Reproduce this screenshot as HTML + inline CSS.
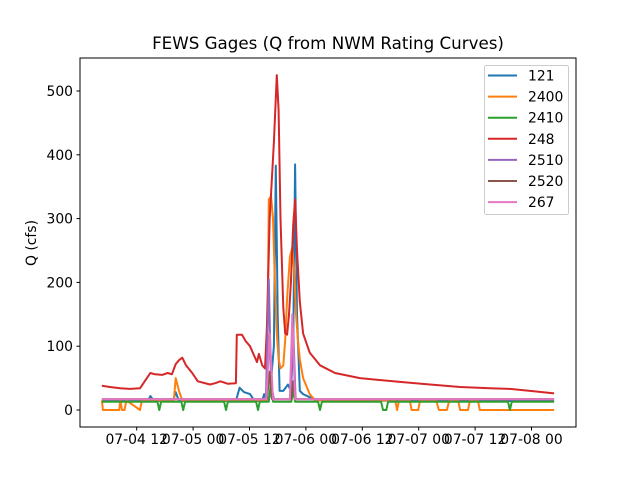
<!DOCTYPE html>
<html><head><meta charset="utf-8"><style>
body{margin:0;background:#fff;font-family:"Liberation Sans","DejaVu Sans",sans-serif}
svg text{font-family:"DejaVu Sans","Liberation Sans",sans-serif}
</style></head><body>
<svg id="chart" width="640" height="480" xmlns="http://www.w3.org/2000/svg">
<rect width="640" height="480" fill="#fff"/>
<text x="328" y="49" text-anchor="middle" font-size="16.7">FEWS Gages (Q from NWM Rating Curves)</text>
<text transform="translate(36,243) rotate(-90)" text-anchor="middle" font-size="13.9">Q (cfs)</text>
<g id="plot"></g>
<rect x="80" y="58" width="496" height="369" fill="none" stroke="#000" stroke-width="1"/>
<g id="legend"></g>
</svg>
<script>
// hours since 07-04 00:00
const xTicks=[12,24,36,48,60,72,84,96];
const xTickLabels=["07-04 12","07-05 00","07-05 12","07-06 00","07-06 12","07-07 00","07-07 12","07-08 00"];
const yTicks=[0,100,200,300,400,500];
const seriesNames=["121","2400","2410","248","2510","2520","267"];
const seriesColors=["#1f77b4","#ff7f0e","#2ca02c","#d62728","#9467bd","#8c564b","#e377c2"];
const t121=[4.6,14.4,14.9,15.7,19.7,20.3,21.0,33.1,33.9,34.8,36.1,37.0,37.8,38.7,39.1,39.5,40.3,41.2,41.6,42.0,42.4,43.2,44.2,44.8,45.3,45.7,46.1,46.7,47.4,48.8,50.0,100.8];
const v121=[14,14,22,14,14,28,14,14,35,28,25,15,14,14,25,18,20,100,383,150,30,30,40,30,100,385,150,30,25,20,15,14];
const t2400=[4.6,4.8,8.3,8.5,8.9,9.4,9.8,12.7,13.1,13.5,19.9,20.3,21.0,21.7,39.7,40.1,40.6,41.0,41.4,41.8,42.2,42.6,43.2,43.6,44.0,44.6,45.1,45.5,45.9,46.3,46.7,47.4,48.8,50.0,67.0,67.4,67.8,70.1,70.5,71.9,72.3,75.7,76.3,78.0,78.5,80.4,80.8,82.5,82.9,84.6,85.0,89.7,90.1,100.8];
const v2400=[15,0,0,15,0,0,15,0,15,15,15,50,30,15,15,330,335,300,200,120,80,65,70,110,175,240,255,220,150,110,80,50,25,15,15,0,15,15,0,0,15,15,0,0,15,15,0,0,15,15,0,0,0,0];
const t2410=[4.6,16.4,16.8,17.2,21.5,21.9,22.3,30.6,31.0,31.4,37.4,37.8,38.2,40.1,40.6,41.0,44.9,45.3,45.7,50.6,51.0,51.4,64.0,64.4,65.1,65.5,91.0,91.4,91.8,100.8];
const v2410=[13,13,0,13,13,0,13,13,0,13,13,0,13,13,45,13,13,30,13,13,0,13,13,0,0,13,13,0,13,13];
const t248=[4.6,6.3,8.5,10.6,12.7,13.7,14.9,15.9,17.4,18.6,19.5,20.3,21.0,21.7,22.5,23.8,25.0,27.6,28.7,29.8,31.4,33.1,33.3,34.4,35.2,36.1,37.0,37.6,38.0,38.7,39.3,39.7,40.3,41.2,41.8,42.2,42.6,43.2,43.6,44.0,44.4,44.8,45.3,45.7,46.1,46.7,47.4,48.8,51.0,54.2,59.5,68.0,74.4,80.8,87.2,91.4,95.7,100.8];
const v248=[38,36,34,33,34,45,58,56,55,58,56,72,78,82,70,58,45,40,42,45,41,42,118,118,108,100,85,75,88,70,65,130,300,420,525,470,300,160,120,118,150,200,290,330,250,170,120,90,70,58,50,44,40,36,34,33,30,26];
const t2510=[4.6,39.5,40.1,40.6,41.2,44.8,45.3,45.8,100.8];
const v2510=[17,17,205,40,17,17,130,17,17];
const t2520=[4.6,39.7,40.3,40.8,44.9,45.3,45.8,100.8];
const v2520=[17,17,60,17,17,45,17,17];
const t267=[4.6,39.6,40.3,41.0,44.6,45.1,45.7,100.8];
const v267=[17,17,120,17,17,150,17,17];
const T=[t121,t2400,t2410,t248,t2510,t2520,t267];
const V=[v121,v2400,v2410,v248,v2510,v2520,v267];
const NS="http://www.w3.org/2000/svg";
function X(h){return 136.7+(h-12)*4.7;}
function Y(v){return 410-v*0.638;}
const plot=document.getElementById('plot');
function mk(tag,attrs,parent){const e=document.createElementNS(NS,tag);for(const k in attrs)e.setAttribute(k,attrs[k]);parent.appendChild(e);return e;}
xTicks.forEach((h,i)=>{
 const l=mk('line',{x1:X(h),x2:X(h),y1:427,y2:430.5,stroke:'#000'},plot);
 
 
 const t=mk('text',{x:X(h),y:444,'text-anchor':'middle','font-size':13.9},plot);
 t.textContent=xTickLabels[i];
 
 
});
yTicks.forEach(v=>{
 const l=mk('line',{x1:76.5,x2:80,y1:Y(v),y2:Y(v),stroke:'#000'},plot);
 
 
 const t=mk('text',{x:73,y:Y(v)+5,'text-anchor':'end','font-size':13.9},plot);
 t.textContent=v;
 
 
});
T.forEach((ts,i)=>{
 const pts=ts.map((h,j)=>X(h).toFixed(1)+','+Y(V[i][j]).toFixed(1)).join(' ');
 const p=mk('polyline',{points:pts,fill:'none',stroke:seriesColors[i],'stroke-width':2,'stroke-linejoin':'round'},plot);
 
 
});
const lg=document.getElementById('legend');
const box=mk('rect',{x:484.5,y:65.5,width:84,height:149,rx:2,fill:'#fff','fill-opacity':0.8,stroke:'#ccc'},lg);


seriesNames.forEach((n,i)=>{
 const y=75.5+i*21.1;
 const l=mk('line',{x1:488,x2:517,y1:y,y2:y,stroke:seriesColors[i],'stroke-width':2},lg);
 
 
 const t=mk('text',{x:528,y:y+5,'font-size':13.9},lg);
 t.textContent=n;
 
 
});
</script>
</body></html>
